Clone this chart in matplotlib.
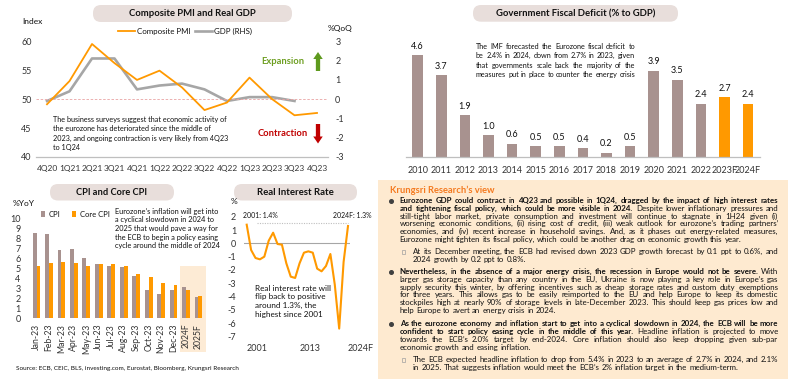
import matplotlib
matplotlib.use('Agg')
import matplotlib.pyplot as plt
import matplotlib.transforms as mtransforms
from matplotlib.patches import FancyBboxPatch, Rectangle, FancyArrow, Patch
from matplotlib.lines import Line2D
from matplotlib.font_manager import FontProperties
import numpy as np

# ---- data ----
quarters = ['4Q20', '1Q21', '2Q21', '3Q21', '4Q21', '1Q22', '2Q22',
            '3Q22', '4Q22', '1Q23', '2Q23', '3Q23', '4Q23']
pmi = [49.1, 53.1, 59.5, 56.2, 53.3, 54.9, 52.0, 48.1, 49.4, 53.7, 50.0, 47.2, 47.6]
gdp = [-0.1, 0.4, 2.1, 2.1, 0.5, 0.7, 0.8, 0.5, -0.1, 0.1, 0.1, -0.1]

months = ['Jan-23', 'Feb-23', 'Mar-23', 'Apr-23', 'May-23', 'Jun-23', 'Jul-23',
          'Aug-23', 'Sep-23', 'Oct-23', 'Nov-23', 'Dec-23', '2024F', '2025F']
cpi = [8.6, 8.5, 6.9, 7.0, 6.1, 5.5, 5.3, 5.2, 4.3, 2.9, 2.4, 2.9, 3.2, 2.1]
core_cpi = [5.3, 5.6, 5.7, 5.6, 5.3, 5.5, 5.5, 5.3, 4.5, 4.2, 3.6, 3.4, 2.9, 2.2]

rate_years = list(range(2001, 2025))
real_rate = [1.4, -0.5, -1.1, -1.2, -1.0, 0.2, 0.8, -0.05, -0.1, -1.5, -2.5, -2.6,
             -1.5, -0.7, -0.6, -0.7, -1.9, -2.1, -1.7, -0.8, -3.1, -6.4, -1.4, 1.3]
rate_ticks = [2001, 2013, 2024]
rate_ticklabels = ['2001', '2013', '2024F']

fiscal_years = ['2010', '2011', '2012', '2013', '2014', '2015', '2016', '2017',
                '2018', '2019', '2020', '2021', '2022', '2023F', '2024F']
fiscal_deficit = [4.6, 3.7, 1.9, 1.0, 0.6, 0.5, 0.5, 0.4, 0.2, 0.5, 3.9, 3.5, 2.4, 2.7, 2.4]

pmi_note = ['The business surveys suggest that economic activity of',
            'the eurozone has deteriorated since the middle of',
            '2023, and ongoing contraction is very likely from 4Q23',
            'to 1Q24']
cpi_note = ['Eurozone\u2019s inflation will get into',
            'a cyclical slowdown in 2024 to',
            '2025 that would pave a way for',
            'the ECB to begin a policy easing',
            'cycle around the middle of 2024']
rate_note = ['Real interest rate will', 'flip back to positive',
             'around 1.3%, the', 'highest since 2001']
imf_note = ['The IMF forecasted the Eurozone fiscal deficit to',
            'be 2.4% in 2024, down from 2.7% in 2023, given',
            'that  governments scale back the majority of the',
            'measures put in place to counter the energy crisis']

# text between * and * is bold
para1 = ['*Eurozone GDP could contract in 4Q23 and possible in 1Q24, dragged by the impact of high interest rates',
         'and tightening fiscal policy, which could be more visible in 2024.* Despite lower inflationary pressures and',
         'still-tight labor market, private consumption and investment will continue to stagnate in 1H24 given (i)',
         'worsening economic conditions, (ii) rising cost of credit, (iii) weak outlook for eurozone\u2019s trading partners\u2019',
         'economies, and (iv) recent increase in household savings. And, as it phases out energy-related measures,',
         'Eurozone might tighten its fiscal policy, which could be another drag on economic growth this year.']
sub1 = ['At its December meeting, the ECB had revised down 2023 GDP growth forecast by 0.1 ppt to 0.6%, and',
        '2024 growth by 0.2 ppt to 0.8%.']
para2 = ['*Nevertheless, in the absence of a major energy crisis, the recession in Europe would not be severe.* With',
         'larger gas storage capacity than any country in the EU, Ukraine is now playing a key role in Europe\u2019s gas',
         'supply security this winter, by offering incentives such as cheap storage rates and custom duty exemptions',
         'for three years. This allows gas to be easily reimported to the EU and help Europe to keep its domestic',
         'stockpiles high at nearly 90% of storage levels in late-December 2023. This should keep gas prices low and',
         'help Europe to avert an energy crisis in 2024.']
para3 = ['*As the eurozone economy and inflation start to get into a cyclical slowdown in 2024, the ECB will be more',
         'confident to start policy easing cycle in the middle of this year.* Headline inflation is projected to move',
         'towards the ECB\u2019s 2.0% target by end-2024. Core inflation should also keep dropping given sub-par',
         'economic growth and easing inflation.']
sub2 = ['The ECB expected headline inflation to drop from 5.4% in 2023 to an average of 2.7% in 2024, and 2.1%',
        'in 2025. That suggests inflation would meet the ECB\u2019s 2% inflation target in the medium-term.']

ORANGE = '#FF9900'
BROWN = '#A8928F'
GRAY = '#A6A6A6'
INK = '#111111'

plt.rcParams['font.family'] = ['Lato', 'DejaVu Sans']
plt.rcParams['axes.unicode_minus'] = False

W, H = 800, 385
fig = plt.figure(figsize=(W / 100, H / 100), dpi=100)
fig.patch.set_facecolor('white')
PX = mtransforms.Affine2D().scale(1 / W, -1 / H).translate(0, 1) + fig.transFigure
R = fig.canvas.get_renderer()


def fp(size, bold=False):
    return FontProperties(family=['Lato', 'DejaVu Sans'], size=size,
                          weight='bold' if bold else 'normal')


def tw(s, size, bold=False):
    return R.get_text_width_height_descent(s, fp(size, bold), ismath=False)[0]


def fit(s, width, bold=False):
    return 10 * width / tw(s, 10, bold)


def txt(x, y, s, size, bold=False, **kw):
    kw.setdefault('color', INK)
    return fig.text(x, y, s, transform=PX, fontproperties=fp(size, bold), **kw)


def note(x, y0, step, lines, ref, width):
    size = fit(lines[ref], width)
    for i, l in enumerate(lines):
        txt(x, y0 + i * step + 0.3 * size * 100 / 72, l, size, va='baseline')


def parse(lines):
    out, bold = [], False
    for line in lines:
        words = []
        for w in line.split():
            if w.startswith('*'):
                bold, w = True, w[1:]
            b = bold
            if w.endswith('*'):
                bold, w = False, w[:-1]
            words.append((w, b))
        out.append(words)
    return out


def space(size):
    return tw('a a', size) - tw('aa', size)


def natural(words, size):
    return sum(tw(w, size, b) for w, b in words) + space(size) * (len(words) - 1)


def fit_block(blocks):
    ratios = []
    for lines, width, last_full in blocks:
        parsed = parse(lines)
        n = len(parsed) if last_full else len(parsed) - 1
        for words in parsed[:n]:
            ratios.append(10 * width / natural(words, 10))
    return min(ratios) * 0.99


def block(lines, x0, x1, ys, size, last_full=False):
    parsed = parse(lines)
    sp = space(size)
    off = 0.3 * size * 100 / 72
    for k, (words, y) in enumerate(zip(parsed, ys)):
        ws = [tw(w, size, b) for w, b in words]
        last = k == len(parsed) - 1 and not last_full
        gap = sp if last else (x1 - x0 - sum(ws)) / max(len(words) - 1, 1)
        x = x0
        for (w, b), wd in zip(words, ws):
            txt(x, y + off, w, size, bold=b, va='baseline')
            x += wd + gap


def add_ax(x0, y0, x1, y1):
    ax = fig.add_axes([x0 / W, 1 - y1 / H, (x1 - x0) / W, (y1 - y0) / H])
    ax.patch.set_alpha(0)
    for s in ax.spines.values():
        s.set_visible(False)
    ax.tick_params(length=0, labelsize=6, colors='#333333')
    return ax


def pill(x0, y0, x1, y1, title, tx0, tx1):
    fig.add_artist(FancyBboxPatch((x0, y0), x1 - x0, y1 - y0,
                                  boxstyle='round,pad=0,rounding_size=8',
                                  transform=PX, fc='#E8DEDB', ec='none', zorder=0.5))
    txt((tx0 + tx1) / 2, (y0 + y1) / 2 + 0.5, title, fit(title, tx1 - tx0, True),
        bold=True, ha='center', va='center', color='#111111')


# ---- Composite PMI and Real GDP ----
pill(93, 5, 292, 22, 'Composite PMI and Real GDP', 129, 256)
ax1 = add_ax(35.75, 41.1, 328.25, 157.0)
ax1.set_xlim(-0.5, 12.5)
ax1.set_ylim(40, 60)
ax1.set_yticks(range(40, 61, 5))
ax1.set_xticks(range(len(quarters)), quarters)
ax1.tick_params(axis='y', pad=3, labelsize=6.5)
ax1.tick_params(axis='x', pad=6)
ax1.spines['bottom'].set_visible(True)
ax1.spines['bottom'].set_color('#BFBFBF')
ax1.spines['bottom'].set_linewidth(0.9)
ax1.axhline(50, color='#E9A3A3', lw=0.6, ls=(0, (3, 2)), zorder=1)
ax1.plot(range(len(pmi)), pmi, color=ORANGE, lw=1.3, zorder=3)
ax2 = ax1.twinx()
for s in ax2.spines.values():
    s.set_visible(False)
ax2.tick_params(length=0, labelsize=6.5, colors='#333333', pad=5)
ax2.set_ylim(-3, 3)
ax2.set_yticks(range(-3, 4))
ax2.plot(range(len(gdp)), gdp, color=GRAY, lw=1.9, zorder=2)
ax1.set_zorder(ax2.get_zorder() + 1)
ax1.patch.set_visible(False)

lsize = fit('Composite PMI', 54)
em = lsize * 100 / 72
ax1.legend([Line2D([], [], color=ORANGE, lw=1.3), Line2D([], [], color=GRAY, lw=1.9)],
           ['Composite PMI', 'GDP (RHS)'], loc='center left',
           bbox_to_anchor=(118 / W, 1 - 31.7 / H), bbox_transform=fig.transFigure,
           ncol=2, frameon=False, prop=fp(lsize), handlelength=17 / em,
           handletextpad=2 / em, columnspacing=4 / em, borderpad=0, borderaxespad=0,
           labelcolor=INK)
txt(22, 21, 'Index', 6, va='center')
txt(340, 29, '%QoQ', 6, va='center', ha='center')
note(53, 120, 9.3, pmi_note, 0, 175)

txt(282.5, 61.7, 'Expansion', fit('Expansion', 43, True), bold=True,
    ha='center', va='center', color='#6E9F22')
txt(282.5, 134, 'Contraction', fit('Contraction', 49.7, True), bold=True,
    ha='center', va='center', color='#C00000')
fig.add_artist(FancyArrow(318, 71, 0, -19, width=4.3, head_width=9.5, head_length=7,
                          length_includes_head=True, transform=PX, fc='#5E9A1E', ec='none'))
fig.add_artist(FancyArrow(318, 124, 0, 19.5, width=4.3, head_width=9.5, head_length=7,
                          length_includes_head=True, transform=PX, fc='#C00000', ec='none'))

# ---- CPI and Core CPI ----
pill(50, 184, 174, 200.5, 'CPI and Core CPI', 76, 146.7)
ax4 = add_ax(30.3, 219, 204.7, 318.3)
ax4.set_xlim(-0.5, 13.5)
ax4.set_ylim(0, 10)
x = np.arange(len(months))
ax4.bar(x - 0.155, cpi, 0.31, color=BROWN, zorder=2)
ax4.bar(x + 0.155, core_cpi, 0.31, color=ORANGE, zorder=2)
ax4.set_yticks(range(0, 11))
ax4.set_xticks(x, months, rotation=90)
ax4.tick_params(axis='y', pad=7, labelsize=6.5)
ax4.tick_params(axis='x', pad=4, labelsize=6.2)
ax4.add_patch(Rectangle((11.5, -3.4), 2.1, 8.7, transform=ax4.transData,
                        clip_on=False, fc='#FDEBD5', ec='none', zorder=0))
csize = fit('Core CPI', 30)
cem = csize * 100 / 72
ax4.legend([Patch(fc=BROWN), Patch(fc=ORANGE)], ['CPI', 'Core CPI'], loc='center left',
           bbox_to_anchor=(41 / W, 1 - 214.3 / H), bbox_transform=fig.transFigure,
           ncol=2, frameon=False, prop=fp(csize), handlelength=3.8 / cem,
           handleheight=5.7 / cem, handletextpad=3.7 / cem, columnspacing=12 / cem,
           borderpad=0, borderaxespad=0, labelcolor=INK)
txt(13, 203.3, '%YoY', 6, va='center')
note(115, 211.7, 8.6, cpi_note, 0, 103.3)

# ---- Real Interest Rate ----
pill(234, 184, 357, 200.5, 'Real Interest Rate', 257.3, 334)
ax3 = add_ax(244.5, 216.7, 350.2, 336.6)
ax3.set_xlim(2000.5, 2024.5)
ax3.set_ylim(-7, 2)
ax3.axhline(0, color='#A6A6A6', lw=0.8, zorder=1)
ax3.hlines(1.5, 2003.3, 2024, colors='#BFBFBF', linestyles=(0, (1, 1.2)), lw=0.8)
ax3.plot(rate_years, real_rate, color=ORANGE, lw=1.5, zorder=3)
ax3.set_yticks(range(-7, 3))
ax3.set_xticks(rate_ticks, rate_ticklabels)
for lab in ax3.get_xticklabels():
    lab.set_ha('left')
ax3.tick_params(axis='y', pad=6, labelsize=6.5)
ax3.tick_params(axis='x', pad=5, labelsize=6.5)
txt(234, 201, '%', 6, va='center', ha='center')
txt(242.7, 215.7, '2001: 1.4%', fit('2001: 1.4%', 34.6), va='center')
txt(371.7, 215.7, '2024F: 1.3%', fit('2001: 1.4%', 34.6), va='center', ha='right')
note(255, 288.3, 8.6, rate_note, 0, 75)

txt(16, 368.3, 'Source: ECB, CEIC, BLS, investing.com, Eurostat, Bloomberg, Krungsri Research',
    fit('Source: ECB, CEIC, BLS, investing.com, Eurostat, Bloomberg, Krungsri Research', 221),
    va='center')

# ---- Government Fiscal Deficit ----
pill(473, 5, 678, 21.7, 'Government Fiscal Deficit (% to GDP)', 495.7, 655)
ax5 = add_ax(405.9, 46.3, 759.8, 157.3)
ax5.set_xlim(-0.5, 14.5)
ax5.set_ylim(0, 5)
fx = np.arange(len(fiscal_years))
fcolors = [BROWN] * (len(fiscal_years) - 2) + [ORANGE] * 2
ax5.bar(fx, fiscal_deficit, 0.45, color=fcolors, zorder=2)
for i, v in enumerate(fiscal_deficit):
    ax5.annotate(f'{v:.1f}', (i, v), xytext=(0, 6.5), textcoords='offset points',
                 ha='center', va='center', fontsize=6.5, color=INK)
ax5.set_yticks([])
ax5.set_xticks(fx, fiscal_years)
ax5.tick_params(axis='x', pad=6.5, labelsize=6.5)
ax5.spines['bottom'].set_visible(True)
ax5.spines['bottom'].set_color('#BFBFBF')
ax5.spines['bottom'].set_linewidth(0.9)
isize = fit_block([(imf_note, 159, True)])
block(imf_note, 476, 635, [46.7, 56.1, 65.5, 74.9], isize, last_full=True)

# ---- Krungsri Research's view ----
fig.add_artist(Rectangle((378, 180), 410, 199, transform=PX, fc='#FEEAD0', ec='none', zorder=0.2))
txt(389.7, 190, 'Krungsri Research\u2019s view', fit('Krungsri Research\u2019s view', 105, True),
    bold=True, va='center', color='#F47A20')

bx0, bx1, sx0 = 399.7, 778.3, 413
bsize = fit_block([(para1, bx1 - bx0, False), (sub1, bx1 - sx0, False),
                   (para2, bx1 - bx0, False), (para3, bx1 - bx0, False),
                   (sub2, bx1 - sx0, False)])
step = 7.75
p1y = [200.7 + step * i for i in range(6)]
s1y = [252 + step * i for i in range(2)]
p2y = [271.7 + step * i for i in range(6)]
p3y = [324 + step * i for i in range(4)]
s2y = [360 + step * i for i in range(2)]
block(para1, bx0, bx1, p1y, bsize)
block(sub1, sx0, bx1, s1y, bsize)
block(para2, bx0, bx1, p2y, bsize)
block(para3, bx0, bx1, p3y, bsize)
block(sub2, sx0, bx1, s2y, bsize)
for y in (p1y[0], p2y[0], p3y[0]):
    fig.add_artist(Line2D([391.3], [y], marker='o', ms=2.6, color='#404040', transform=PX))
for y in (s1y[0], s2y[0]):
    fig.add_artist(Rectangle((401.6, y - 1.6), 3.2, 3.2, transform=PX, fc='none',
                             ec='#A0A0A0', lw=0.5))

fig.savefig('out.png', dpi=100)
